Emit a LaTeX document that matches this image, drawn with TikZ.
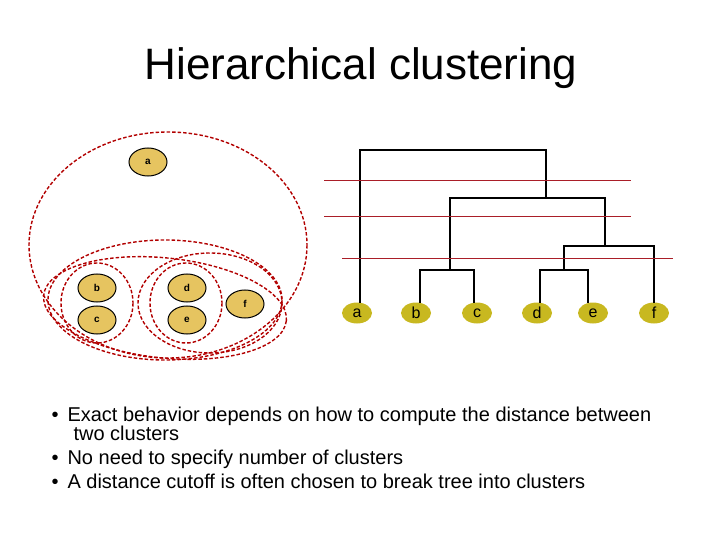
\documentclass[tikz,border=0pt]{standalone}
\usepackage{fontspec}
\setmainfont{Liberation Sans}
\usetikzlibrary{shapes.geometric}
\begin{document}
\begin{tikzpicture}[x=1pt,y=-1pt,
 cl/.style={draw=red!70!black,line width=1.4pt,dash pattern=on 3.5pt off 2pt},
 pt/.style={ellipse,draw,line width=1pt,fill={rgb,255:red,230;green,196;blue,96},minimum width=38pt,minimum height=28pt,inner sep=0pt,font=\bfseries},
 lf/.style={ellipse,fill={rgb,255:red,200;green,184;blue,32},minimum width=30pt,minimum height=21pt,inner sep=0pt,font=\fontsize{16}{18}\selectfont},
 br/.style={line width=2.4pt,line cap=rect},
 cut/.style={draw={rgb,255:red,170;green,30;blue,40},line width=0.8pt},
 bl/.style={anchor=base west,font=\fontsize{20}{22}\selectfont}]
\useasboundingbox (0,0) rectangle (720,540);
\node[font=\fontsize{44}{48}\selectfont] (t) at (361,68) {Hierarchical clustering};
% left
\draw[cl] (168,245) ellipse [x radius=139,y radius=113];
\draw[cl] (165,300) ellipse [x radius=117,y radius=60];
\draw[cl,rotate around={-6:(165,308)}] (165,308) ellipse [x radius=122,y radius=50];
\draw[cl] (97,303) ellipse [x radius=36,y radius=40];
\draw[cl] (186,303) ellipse [x radius=36,y radius=40];
\draw[cl] (210,303) ellipse [x radius=72,y radius=50];
\node[pt] (a) at (148,162) {a};
\node[pt] (b) at (97,288) {b};
\node[pt] (c) at (97,320) {c};
\node[pt] (d) at (187,288) {d};
\node[pt] (e) at (187,320) {e};
\node[pt] (f) at (245,304) {f};
% dendrogram
\node[lf] (la) at (357,313) {a};
\node[lf] (lb) at (416,313) {b};
\node[lf] (lc) at (477,313) {c};
\node[lf] (ld) at (537,313) {d};
\node[lf] (le) at (593,313) {e};
\node[lf] (lf) at (654,313) {f};
\draw[br] (360,302) -- (360,150) -- (546,150) -- (546,198);
\draw[br] (450,270) -- (450,198) -- (605,198) -- (605,246);
\draw[br] (420,302) -- (420,270) -- (474,270) -- (474,302);
\draw[br] (564,270) -- (564,246) -- (654,246) -- (654,302);
\draw[br] (540,302) -- (540,270) -- (588,270) -- (588,302);
\draw[cut] (324,180) -- (631,180);
\draw[cut] (324,216) -- (631,216);
\draw[cut] (342,258) -- (673,258);
% bullets
\node[bl] (b1) at (48,421) {•\hspace{9pt}Exact behavior depends on how to compute the distance between};
\node[bl] (b1b) at (70,440) {two clusters};
\node[bl] (b2) at (48,464) {•\hspace{9pt}No need to specify number of clusters};
\node[bl] (b3) at (48,488) {•\hspace{9pt}A distance cutoff is often chosen to break tree into clusters};
\end{tikzpicture}
\end{document}
